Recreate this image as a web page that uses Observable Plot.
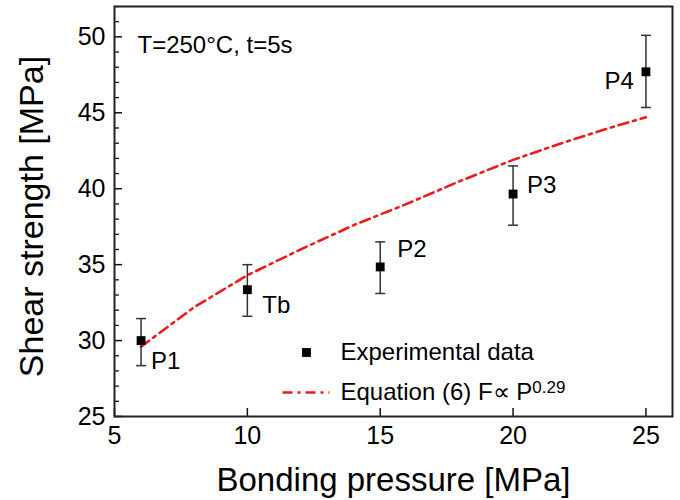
<!DOCTYPE html>
<html><head><meta charset="utf-8">
<script src="https://cdn.jsdelivr.net/npm/d3@7"></script>
<script src="https://cdn.jsdelivr.net/npm/@observablehq/plot@0.6"></script>
<style>body{margin:0;background:#fff}</style>
</head><body><div id="chart"></div>
<script>
// ---- data ----
const pressure   = [6, 10, 15, 20, 25];
const strength   = [30.0, 33.35, 34.85, 39.65, 47.7];
const errLow     = [28.35, 31.6, 33.1, 37.6, 45.35];
const errHigh    = [31.45, 35.0, 36.5, 41.5, 50.1];
const pointNames = ["P1", "Tb", "P2", "P3", "P4"];
const fitPressure = [6, 8, 10, 12, 14, 16, 18, 20, 22, 24, 25];
const fitStrength = [29.6, 32.2, 34.3, 36.0, 37.6, 39.0, 40.5, 41.9, 43.1, 44.2, 44.7];
const xTicks = [5, 10, 15, 20, 25];
const yTicks = [25, 30, 35, 40, 45, 50];
const yMinorTicks = [26, 27, 28, 29, 31, 32, 33, 34, 36, 37, 38, 39, 41, 42, 43, 44, 46, 47, 48, 49, 51, 52];
const xTitle = "Bonding pressure [MPa]";
const yTitle = "Shear strength [MPa]";
const note = "T=250°C, t=5s";
const legendData = "Experimental data";
const legendFit = "Equation (6) F\u221D P";
const legendFitExp = "0.29";

// ---- layout ----
const W = 680, H = 500, mL = 114, mR = 8, mT = 6, mB = 84;
const innerW = W - mL - mR, innerH = H - mT - mB;
const red = "#ee1b1b";
const dash = "10,5,3,5";
const font = "'Liberation Sans', Arial, sans-serif";
const idx = pressure.map((_, i) => i);
const fit = fitPressure.map((p, i) => ({p, s: fitStrength[i]}));

const hLine = {draw(ctx, size) { const r = Math.sqrt(size / Math.PI); ctx.moveTo(-r, 0); ctx.lineTo(r, 0); }};

// label offsets (style, per point)
const labelOffsets = [
  {dx: 10, dy: 21, anchor: "start"},
  {dx: 15, dy: 16, anchor: "start"},
  {dx: 17, dy: -18, anchor: "start"},
  {dx: 14, dy: -9, anchor: "start"},
  {dx: -12, dy: 10, anchor: "end"}
];

const marks = [
  // ticks (inward)
  Plot.ruleY(yTicks, {y: d => d, insetRight: innerW - 8, stroke: "#111", strokeWidth: 1.5}),
  Plot.ruleY(yMinorTicks, {y: d => d, insetRight: innerW - 5, stroke: "#111", strokeWidth: 1.3}),
  Plot.ruleX(xTicks, {x: d => d, insetTop: innerH - 8, stroke: "#111", strokeWidth: 1.5}),
  Plot.axisX({ticks: xTicks, tickSize: 0, tickPadding: 10, fontSize: 25, label: null}),
  Plot.axisY({ticks: yTicks, tickSize: 0, tickPadding: 9, fontSize: 25, label: null}),
  // fit
  Plot.line(fit, {x: "p", y: "s", stroke: red, strokeWidth: 2.6, strokeDasharray: dash}),
  // error bars
  Plot.ruleX(idx, {x: i => pressure[i], y1: i => errLow[i], y2: i => errHigh[i], stroke: "#333", strokeWidth: 1.5}),
  Plot.dot(idx, {x: i => pressure[i], y: i => errHigh[i], symbol: hLine, r: 5, stroke: "#333", strokeWidth: 1.5, fill: "none"}),
  Plot.dot(idx, {x: i => pressure[i], y: i => errLow[i], symbol: hLine, r: 5, stroke: "#333", strokeWidth: 1.5, fill: "none"}),
  // points
  Plot.dot(idx, {x: i => pressure[i], y: i => strength[i], symbol: "square", r: 5, fill: "#000"}),
  // point labels
  ...idx.map(i => Plot.text([i], {x: j => pressure[j], y: j => strength[j], text: j => pointNames[j],
      dx: labelOffsets[i].dx, dy: labelOffsets[i].dy, textAnchor: labelOffsets[i].anchor, fontSize: 24, fill: "#000"})),
  // annotation
  Plot.text([note], {frameAnchor: "top-left", dx: 23, dy: 39, textAnchor: "start", lineAnchor: "middle", fontSize: 24, fill: "#000"}),
  // legend
  Plot.dot([0], {frameAnchor: "top-left", dx: 192, dy: 346, symbol: "square", r: 5, fill: "#000"}),
  Plot.text([legendData], {frameAnchor: "top-left", dx: 226, dy: 346, textAnchor: "start", lineAnchor: "middle", fontSize: 24, fill: "#000"}),
  Plot.dot([0], {frameAnchor: "top-left", dx: 191.5, dy: 386, symbol: hLine, r: 23.5, stroke: red, strokeWidth: 2.6, strokeDasharray: dash, fill: "none"}),
  Plot.text([legendFit], {frameAnchor: "top-left", dx: 226, dy: 386, textAnchor: "start", lineAnchor: "middle", fontSize: 24, fill: "#000"}),
  // axis titles
  Plot.text([yTitle], {frameAnchor: "left", dx: -82, dy: 5, rotate: -90, textAnchor: "middle", lineAnchor: "middle", fontSize: 34, fill: "#000"}),
  Plot.text([xTitle], {frameAnchor: "bottom", dy: 64, textAnchor: "middle", lineAnchor: "middle", fontSize: 33, fill: "#000"}),
  Plot.frame({stroke: "#222", strokeWidth: 2})
];

const chart = Plot.plot({
  width: W, height: H,
  marginLeft: mL, marginRight: mR, marginTop: mT, marginBottom: mB,
  style: {fontFamily: font, fontSize: "24px", color: "#000", background: "#fff"},
  x: {domain: [5, 26]},
  y: {domain: [25, 52]},
  marks
});

d3.select(chart).selectAll("text")
  .filter(function() { return this.textContent === legendFit; })
  .append("tspan").attr("dy", "-0.45em").attr("font-size", 17).text(legendFitExp);

document.getElementById("chart").appendChild(chart);
</script>
</body></html>
